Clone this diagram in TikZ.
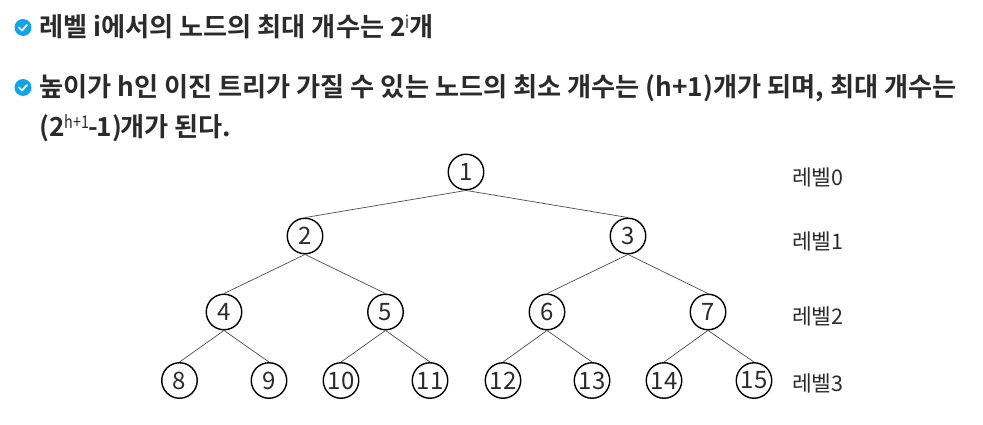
\documentclass[tikz,border=0pt]{standalone}
\usepackage{fontspec}
\newfontfamily\krb[BoldFont={* Bold}]{Noto Sans CJK KR}
\newfontfamily\krr{Noto Sans CJK KR}
\definecolor{ink}{HTML}{2B2B2B}
\definecolor{tick}{HTML}{12A5E6}
\tikzset{
  x=1pt,y=-1pt,
  treenode/.style={circle,draw=black,line width=1.4pt,minimum size=35.5pt,inner sep=0pt,font=\krr\fontsize{24}{26}\selectfont,text=ink},
  edge/.style={draw=black!70,line width=0.7pt},
  lvl/.style={anchor=west,inner sep=0pt,font=\krr\fontsize{21.5}{24}\selectfont,text=ink},
  head/.style={anchor=base west,inner sep=0pt,font=\krb\bfseries\fontsize{26.2}{30}\selectfont,text=ink},
  bul/.style={circle,fill=tick,minimum size=17pt,inner sep=0pt},
  chk/.style={draw=white,line width=1.7pt,line cap=round,line join=round}
}
\newcommand{\supr}[1]{\raisebox{8pt}{\scalebox{0.82}[1]{\fontsize{17.5}{18}\selectfont\mdseries #1}}}
\begin{document}
\begin{tikzpicture}
\useasboundingbox (0,0) rectangle (983,425);
\node[bul] (b1) at (23,27.5) {};
\draw[chk] (19,27.5) -- (22,30.5) -- (27,25);
\node[bul] (b2) at (23,87.5) {};
\draw[chk] (19,87.5) -- (22,90.5) -- (27,85);
\node[head] (t1) at (39,37) {레벨 i에서의 노드의 최대 개수는 2\supr{i}개};
\node[head] (t2) at (39,97) {높이가 h인 이진 트리가 가질 수 있는 노드의 최소 개수는 (h+1)개가 되며, 최대 개수는};
\node[head] (t3) at (39,137) {(2\supr{h+1}\kern-1pt-\kern-1pt1)\kern-2pt개가 된다.};
\foreach \n/\x/\y in {1/466/172,2/305/236,3/628/236,4/224/312,5/385.5/312,6/547/312,7/708/312,8/179.5/380.5,9/269/380.5,10/341/380.5,11/430/380.5,12/503/380.5,13/592/380.5,14/664/380.5,15/754/380.5}
  \node[treenode] (n\n) at (\x,\y) {\n};
\foreach \p/\c in {1/2,1/3,2/4,2/5,3/6,3/7,4/8,4/9,5/10,5/11,6/12,6/13,7/14,7/15}
  \draw[edge] (n\p.south) -- (n\c.north);
\node[lvl] (l0) at (792,177) {레벨0};
\node[lvl] (l1) at (792,241) {레벨1};
\node[lvl] (l2) at (792,316) {레벨2};
\node[lvl] (l3) at (792,383) {레벨3};
\end{tikzpicture}
\end{document}
